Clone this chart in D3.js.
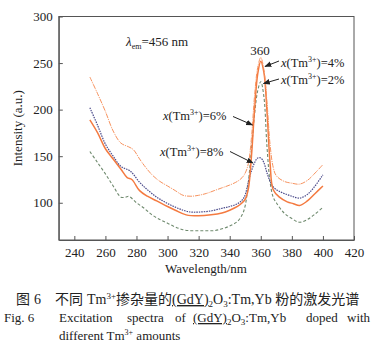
<!DOCTYPE html>
<html><head><meta charset="utf-8">
<script src="https://cdn.jsdelivr.net/npm/d3@7"></script>
<style>
body{margin:0;background:#fff;}
svg{display:block;}
text{font-family:"Liberation Serif","Times New Roman",serif !important;fill:#222;}
.cjk{font-family:"Noto Sans CJK SC",sans-serif !important;}
</style></head>
<body><svg id="c" width="389" height="356"></svg>
<script>
const wavelengths4 = [250,255,260,265,270,275,278,282,285,290,295,300,305,310,315,320,325,330,335,340,345,348,350,352,354,356,358,360,362,364,366,368,370,375,380,385,390,395,400];
const tm4 = [235,217,198,177,164,160,157,147,140,130,123,118,113,108,107,108,110,113,116,119,123,127,132,142,170,215,245,256,243,208,162,138,129,123,121,120,124,132,141];
const wavelengths2 = [250,255,260,265,270,273,275,280,285,290,295,300,305,310,315,320,325,330,335,340,345,348,350,352,354,356,358,360,362,364,366,368,370,375,380,385,390,395,400];
const tm2 = [155,143,131,118,106,106,107,100,94,87,82,78,74,71,70,70,70,70,72,75,80,87,97,122,157,195,220,230,214,160,122,106,100,89,83,79,82,88,95];
const wavelengths6 = [250,255,260,265,270,274,277,282,287,293,300,305,312,320,328,335,340,345,348,350,352,354,356,358,360,362,364,366,368,372,377,381,385,390,395,400];
const tm6 = [189,175,158,147,136,127,125,113,107,102,96,92,87,86,87,89,92,96,100,104,115,150,200,238,252,240,198,142,114,106,101,99,97,102,110,118];
const wavelengths8 = [250,255,260,265,270,276,282,287,293,298,304,310,315,320,327,335,340,345,349,353,356,358,360,362,364,366,368,371,375,380,385,390,394,400];
const tm8 = [202,183,163,150,139,134,122,114,106,101,96,92,90,90,91,94,96,99,105,129,143,148,148,143,132,123,117,113,110,107,105,109,116,130];
const xTicks = [240,260,280,300,320,340,360,380,400,420];
const yTicks = [100,150,200,250,300];

const svg = d3.select("#c");
const x = d3.scaleLinear().domain([230,420]).range([58.8,354]);
const y = d3.scaleLinear().domain([60,300]).range([240,16.5]);

svg.append("rect").attr("x",x(230)).attr("y",y(300)).attr("width",x(420)-x(230)).attr("height",y(60)-y(300))
  .attr("fill","none").attr("stroke","#555").attr("stroke-width",1);

const xAxis = svg.append("g").attr("transform",`translate(0,${y(60)})`)
  .call(d3.axisBottom(x).tickValues(xTicks).tickSizeInner(-4).tickSizeOuter(0).tickPadding(8));
const yAxis = svg.append("g").attr("transform",`translate(${x(230)},0)`)
  .call(d3.axisLeft(y).tickValues(yTicks).tickSizeInner(-4).tickSizeOuter(0).tickPadding(6));
[xAxis,yAxis].forEach(a=>{
  a.attr("font-family",null);
  a.select(".domain").attr("stroke","#555");
  a.selectAll(".tick line").attr("stroke","#555");
  a.selectAll("text").attr("font-size",13).attr("fill","#222");
});

const line = d3.line().x(d=>x(d[0])).y(d=>y(d[1])).curve(d3.curveCatmullRom.alpha(0.5));
const series = [
  {w:wavelengths2,v:tm2,color:"#6f8a6e",width:1.1,dash:"3,2"},
  {w:wavelengths8,v:tm8,color:"#4a4a8a",width:1.2,dash:"1.5,1"},
  {w:wavelengths6,v:tm6,color:"#f47a40",width:1.5,dash:null},
  {w:wavelengths4,v:tm4,color:"#f7935f",width:1,dash:"5,1,1,1"}
];
series.forEach(s=>{
  svg.append("path").datum(s.w.map((w,i)=>[w,s.v[i]]))
    .attr("d",line).attr("fill","none").attr("stroke",s.color)
    .attr("stroke-width",s.width).attr("stroke-dasharray",s.dash);
});

svg.append("defs").append("marker").attr("id","ar").attr("viewBox","0 0 10 10").attr("refX",9).attr("refY",5)
  .attr("markerWidth",7).attr("markerHeight",7).attr("orient","auto-start-reverse")
  .append("path").attr("d","M0,1 L10,5 L0,9 z").attr("fill","#222");
function arrow(x1,y1,x2,y2){
  svg.append("line").attr("x1",x1).attr("y1",y1).attr("x2",x2).attr("y2",y2)
    .attr("stroke","#222").attr("stroke-width",1).attr("marker-end","url(#ar)");
}
function label(tx,ty,pct){
  const t = svg.append("text").attr("x",tx).attr("y",ty).attr("font-size",12.5);
  t.append("tspan").attr("font-style","italic").text("x");
  t.append("tspan").text("(Tm");
  t.append("tspan").attr("font-size",8).attr("dy",-5).text("3+");
  t.append("tspan").attr("dy",5).text(")="+pct);
}
label(281,67,"4%"); arrow(279,61,265,66.5);
label(281,84,"2%"); arrow(279,79,263.5,83.5);
label(163,120,"6%"); arrow(233,116.5,252.5,125);
label(160,156,"8%"); arrow(230,151.5,253,163);

svg.append("text").attr("x",260).attr("y",55).attr("text-anchor","middle").attr("font-size",13).text("360");

const lam = svg.append("text").attr("x",126).attr("y",46).attr("font-size",13);
lam.append("tspan").attr("font-style","italic").text("λ");
lam.append("tspan").attr("font-size",8).attr("dy",3).text("em");
lam.append("tspan").attr("dy",-3).text("=456 nm");

svg.append("text").attr("transform",`translate(22,${(y(60)+y(300))/2}) rotate(-90)`).attr("text-anchor","middle")
  .attr("font-size",13).text("Intensity (a.u.)");
svg.append("text").attr("x",206).attr("y",273).attr("text-anchor","middle").attr("font-size",13).text("Wavelength/nm");

// caption
const c1 = svg.append("text").attr("y",304).attr("font-size",14);
c1.append("tspan").attr("x",16).attr("class","cjk").text("图");
c1.append("tspan").attr("x",34).text("6");
c1.append("tspan").attr("x",55).attr("class","cjk").text("不同");
c1.append("tspan").attr("dx",4).text("Tm");
c1.append("tspan").attr("font-size",9).attr("dy",-5).text("3+");
c1.append("tspan").attr("dy",5).attr("class","cjk").text("掺杂量的");
c1.append("tspan").attr("style","text-decoration:underline wavy #d33;").text("(GdY)");
c1.append("tspan").attr("font-size",9).attr("dy",3).text("2");
c1.append("tspan").attr("dy",-3).text("O");
c1.append("tspan").attr("font-size",9).attr("dy",3).text("3");
c1.append("tspan").attr("dy",-3).text(":Tm,Yb ");
c1.append("tspan").attr("class","cjk").text("粉的激发光谱");

const c2 = svg.append("text").attr("y",322).attr("font-size",13);
c2.append("tspan").attr("x",4).text("Fig.  6");
c2.append("tspan").attr("x",59).text("Excitation");
c2.append("tspan").attr("x",127).text("spectra");
c2.append("tspan").attr("x",175).text("of");
c2.append("tspan").attr("x",193).attr("style","text-decoration:underline wavy #d33;").text("(GdY)");
c2.append("tspan").attr("font-size",9).attr("dy",3).text("2");
c2.append("tspan").attr("dy",-3).text("O");
c2.append("tspan").attr("font-size",9).attr("dy",3).text("3");
c2.append("tspan").attr("dy",-3).text(":Tm,Yb");
c2.append("tspan").attr("x",306).text("doped");
c2.append("tspan").attr("x",347).text("with");

const c3 = svg.append("text").attr("y",340).attr("font-size",13);
c3.append("tspan").attr("x",59).text("different Tm");
c3.append("tspan").attr("font-size",8).attr("dy",-5).text("3+");
c3.append("tspan").attr("dy",5).text(" amounts");
</script></body></html>
